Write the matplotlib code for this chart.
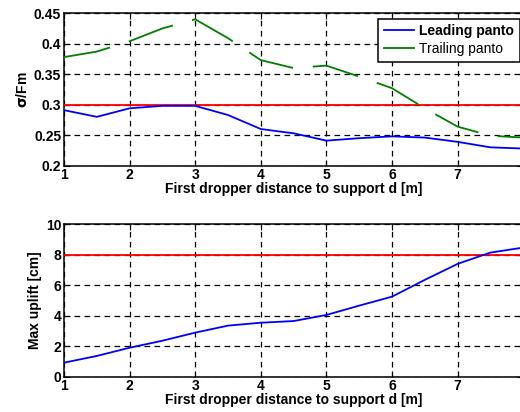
import matplotlib
matplotlib.use("Agg")
import matplotlib.pyplot as plt
import numpy as np

plt.rcParams['font.family'] = ['Liberation Sans', 'DejaVu Sans']
plt.rcParams['font.weight'] = 'bold'
plt.rcParams['font.size'] = 10

# Distancia del primer péndola al soporte [m]
d = [1, 1.5, 2, 2.5, 3, 3.5, 4, 4.5, 5, 5.5, 6, 6.5, 7, 7.5, 8]

# sigma/Fm
leading = [0.291, 0.280, 0.294, 0.298, 0.298, 0.283, 0.260, 0.253, 0.241,
           0.245, 0.248, 0.246, 0.239, 0.230, 0.228]
trailing = [0.378, 0.387, 0.404, 0.425, 0.440, 0.409, 0.373, 0.360, 0.364,
            0.346, 0.327, 0.294, 0.264, 0.249, 0.246]
limite_sigma = 0.3

# Levantamiento máximo [cm]
uplift = [0.92, 1.36, 1.90, 2.36, 2.89, 3.35, 3.54, 3.65, 4.05, 4.66,
          5.25, 6.35, 7.40, 8.14, 8.47]
limite_uplift = 8

xlabel = "First dropper distance to support d [m]"

fig = plt.figure(figsize=(5.2, 4.12), dpi=100)
ax1 = fig.add_axes([0.1231, 0.598, 0.883, 0.370])
ax2 = fig.add_axes([0.1231, 0.0857, 0.883, 0.370])


def estilo(ax):
    ax.set_xlim(1, 8)
    ax.set_xticks(range(1, 9))
    ax.grid(True, color='black', linestyle=(0, (4.5, 3.5)), linewidth=0.9)
    ax.tick_params(direction='in', top=True, right=True, length=4,
                   width=0.8, pad=2, labelsize=10)
    for s in ax.spines.values():
        s.set_linewidth(1.1)
    ax.set_xlabel(xlabel, fontsize=10, fontweight='bold', labelpad=0)


# Gráfico superior
ax1.axhline(limite_sigma, color='red', linewidth=1.3, zorder=3)
ax1.plot(d, leading, color='blue', linewidth=1.3, label='Leading panto', zorder=4)
ax1.plot(d, trailing, color='green', linewidth=1.3, dashes=(26, 11),
         label='Trailing panto', zorder=4)
ax1.set_ylim(0.2, 0.45)
ax1.set_yticks([0.2, 0.25, 0.3, 0.35, 0.4, 0.45])
ax1.set_yticklabels(['0.2', '0.25', '0.3', '0.35', '0.4', '0.45'])
estilo(ax1)
ax1.set_ylabel(r'$\mathbf{\sigma}$/Fm', fontsize=10, fontweight='bold', labelpad=3)

leg = ax1.legend(loc='upper right', bbox_to_anchor=(0.9925, 0.965), fancybox=False,
                 framealpha=1, edgecolor='black', handlelength=2.2,
                 borderpad=0.4, labelspacing=0.3, handletextpad=0.35,
                 borderaxespad=0.0, fontsize=10)
leg.get_frame().set_linewidth(1.1)
leg.get_lines()[1].set_linestyle('-')
textos = leg.get_texts()
textos[0].set_fontweight('heavy')
textos[1].set_fontweight('normal')

# Gráfico inferior
ax2.axhline(limite_uplift, color='red', linewidth=1.3, zorder=3)
ax2.plot(d, uplift, color='blue', linewidth=1.3, zorder=4)
ax2.set_ylim(0, 10)
ax2.set_yticks([0, 2, 4, 6, 8, 10])
estilo(ax2)
ax2.set_ylabel('Max uplift [cm]', fontsize=10, fontweight='bold', labelpad=3)

fig.savefig('out.png', dpi=100)
